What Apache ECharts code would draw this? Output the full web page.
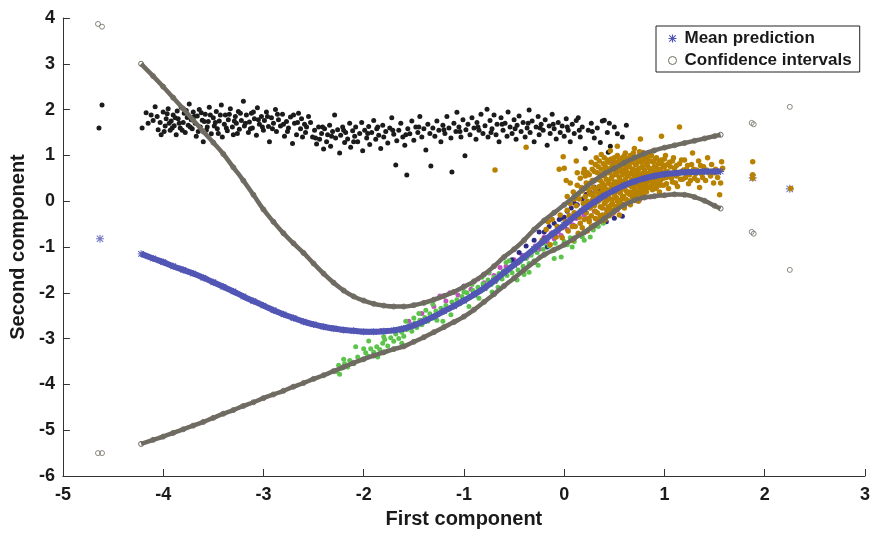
<!DOCTYPE html>
<html>
<head>
<meta charset="utf-8">
<script src="https://cdn.jsdelivr.net/npm/echarts@6/dist/echarts.min.js"></script>
<style>
  html, body { margin: 0; padding: 0; background: #fff; }
  #chart { width: 873px; height: 538px; }
</style>
</head>
<body>
<div id="chart"></div>
<script>
// Inputs at which the model prediction and its bounds are evaluated
const curveX = [-4.22,-4.1,-4.0,-3.9,-3.8,-3.7,-3.6,-3.5,-3.4,-3.3,-3.2,-3.1,-3.0,-2.9,-2.8,-2.7,-2.6,-2.5,-2.4,-2.3,-2.2,-2.1,-2.0,-1.9,-1.8,-1.7,-1.6,-1.5,-1.4,-1.3,-1.2,-1.1,-1.0,-0.9,-0.8,-0.7,-0.6,-0.5,-0.4,-0.3,-0.2,-0.1,0,0.1,0.2,0.3,0.4,0.5,0.6,0.7,0.8,0.9,1.0,1.1,1.2,1.3,1.4,1.5,1.56];
const ciUpper = [3.00,2.73,2.50,2.26,2.02,1.77,1.52,1.28,1.03,0.74,0.45,0.14,-0.18,-0.45,-0.70,-0.92,-1.13,-1.36,-1.58,-1.78,-1.95,-2.08,-2.17,-2.24,-2.28,-2.30,-2.30,-2.27,-2.22,-2.15,-2.07,-1.98,-1.87,-1.75,-1.60,-1.42,-1.22,-1.05,-0.85,-0.62,-0.42,-0.25,-0.08,0.10,0.28,0.45,0.60,0.72,0.84,0.95,1.04,1.11,1.17,1.22,1.27,1.32,1.37,1.42,1.45];
const meanPred = [-1.15,-1.25,-1.33,-1.42,-1.50,-1.58,-1.67,-1.77,-1.87,-1.97,-2.08,-2.18,-2.28,-2.38,-2.47,-2.55,-2.63,-2.69,-2.74,-2.78,-2.81,-2.83,-2.85,-2.85,-2.84,-2.82,-2.78,-2.71,-2.62,-2.52,-2.40,-2.29,-2.17,-2.04,-1.90,-1.74,-1.56,-1.39,-1.22,-1.04,-0.86,-0.69,-0.52,-0.34,-0.17,-0.02,0.12,0.24,0.35,0.43,0.50,0.55,0.59,0.61,0.63,0.64,0.65,0.65,0.65];
const ciLower = [-5.30,-5.21,-5.14,-5.06,-4.98,-4.90,-4.82,-4.73,-4.64,-4.56,-4.47,-4.39,-4.30,-4.22,-4.14,-4.05,-3.97,-3.88,-3.80,-3.71,-3.62,-3.53,-3.45,-3.37,-3.30,-3.23,-3.17,-3.07,-2.97,-2.86,-2.75,-2.64,-2.52,-2.37,-2.20,-2.03,-1.85,-1.68,-1.50,-1.33,-1.17,-1.06,-0.95,-0.81,-0.68,-0.53,-0.38,-0.22,-0.08,0.02,0.08,0.11,0.13,0.15,0.14,0.09,0.01,-0.10,-0.16];

// Isolated inputs far from the bulk of the data
const farX = [-4.65,-4.61,1.87,1.89,2.25];
const farUpper = [3.87,3.81,1.71,1.68,2.06];
const farLower = [-5.50,-5.50,-0.67,-0.71,-1.50];
const farMean = [[-4.63,-0.82],[1.88,0.51],[2.25,0.27]];

// Observed points, grouped by class
const blackPts = [[-4.64,1.60],[-4.61,2.10],[-4.21,1.60],
[-4.17,1.93],[-4.12,1.88],[-4.10,1.76],[-4.08,2.06],[-4.05,1.56],[-4.03,1.72],[-4.02,1.45],[-4.00,1.95],[-3.98,1.64],[-3.97,1.80],[-3.95,2.02],[-3.93,1.55],[-3.92,1.75],[-3.90,1.88],[-3.89,1.65],[-3.87,1.45],[-3.86,1.97],[-3.85,1.80],[-3.83,1.60],[-3.82,2.05],[-3.80,1.72],[-3.79,1.92],[-3.78,1.50],[-3.76,1.83],[-3.75,1.66],[-3.74,2.12],[-3.72,1.78],[-3.71,1.58],[-3.70,1.95],[-3.68,1.70],[-3.67,1.42],[-3.66,1.86],[-3.64,2.00],[-3.63,1.62],[-3.61,1.77],[-3.60,1.30],[-3.58,1.90],[-3.57,1.55],[-3.55,1.74],[-3.54,2.05],[-3.52,1.47],[-3.50,1.82],[-3.49,1.64],[-3.47,1.96],[-3.46,1.58],[-3.44,1.75],[-3.42,2.10],[-3.41,1.40],[-3.39,1.68],[-3.38,1.88],[-3.36,1.54],[-3.35,1.78],[-3.33,2.02],[-3.31,1.62],[-3.30,1.45],[-3.28,1.85],[-3.27,1.70],[-3.25,1.96],[-3.24,1.57],[-3.22,1.76],[-3.20,2.18],[-3.19,1.64],[-3.17,1.88],[-3.15,1.50],[-3.14,1.73],[-3.12,1.92],[-3.11,1.60],[-3.09,1.80],[-3.07,1.44],[-3.06,2.04],[-3.04,1.68],[-3.02,1.85],[-3.00,1.55],[-2.99,1.76],[-2.97,1.95],[-2.95,1.63],[-2.94,1.30],[-2.92,1.82],[-2.90,1.70],[-2.88,2.00],[-2.87,1.52],[-2.85,1.78],[-2.83,1.64],[-2.81,1.90],[-2.79,1.42],[-2.77,1.74],[-2.75,1.60],[-2.73,1.84],[-2.71,1.26],[-2.69,1.70],[-2.67,1.45],[-2.65,1.92],[-2.63,1.58],[-2.61,1.40],[-2.59,1.68],[-2.57,1.62],
[-2.53,1.72],[-2.51,1.40],[-2.49,1.55],[-2.47,1.25],[-2.45,1.62],[-2.44,1.35],[-2.42,1.48],[-2.40,1.14],[-2.39,1.58],[-2.37,1.30],[-2.36,1.45],[-2.34,1.66],[-2.33,1.20],[-2.31,1.52],[-2.29,1.88],[-2.28,1.38],[-2.26,1.56],[-2.24,1.05],[-2.23,1.44],[-2.21,1.62],[-2.19,1.28],[-2.18,1.50],[-2.16,1.36],[-2.14,1.70],[-2.13,1.18],[-2.11,1.54],[-2.09,1.42],[-2.08,1.62],[-2.06,1.30],[-2.04,1.48],[-2.02,1.72],[-2.01,1.10],[-1.99,1.55],[-1.97,1.38],[-1.95,1.63],[-1.94,1.24],[-1.92,1.50],[-1.90,1.76],[-1.88,1.35],[-1.87,1.58],[-1.85,1.44],[-1.83,1.15],[-1.81,1.66],[-1.80,1.40],[-1.78,1.52],[-1.76,1.27],[-1.74,1.60],[-1.72,1.82],[-1.70,1.46],[-1.68,0.79],[-1.67,1.32],[-1.65,1.55],[-1.63,1.70],[-1.61,1.40],[-1.59,1.22],[-1.57,0.57],[-1.56,1.58],[-1.54,1.47],[-1.52,1.75],[-1.50,1.33],[-1.48,1.62],[-1.46,1.50],[-1.44,1.85],[-1.42,1.40],[-1.40,1.58],[-1.38,1.12],[-1.36,1.68],[-1.34,1.48],[-1.33,0.77],[-1.31,1.60],
[-1.29,1.42],[-1.27,1.75],[-1.25,1.55],[-1.23,1.30],[-1.21,1.66],[-1.19,1.48],[-1.17,1.85],[-1.15,1.60],[-1.13,1.38],[-1.12,0.64],[-1.10,1.70],[-1.08,1.52],[-1.07,1.94],[-1.05,1.62],[-1.03,1.40],[-1.01,1.78],[-0.99,0.99],[-0.98,1.56],[-0.96,1.68],[-0.94,1.45],[-0.92,1.82],[-0.90,1.60],[-0.88,1.35],[-0.87,1.72],[-0.85,1.55],[-0.83,1.90],[-0.81,1.48],[-0.79,1.65],[-0.77,2.01],[-0.76,1.40],[-0.74,1.76],[-0.72,1.58],[-0.70,1.88],[-0.68,1.45],[-0.67,1.68],[-0.65,1.30],[-0.63,1.82],[-0.61,1.55],[-0.59,1.70],[-0.57,1.42],[-0.56,1.95],[-0.54,1.62],[-0.52,1.48],[-0.50,1.78],[-0.48,1.35],[-0.47,1.66],[-0.45,1.86],[-0.43,1.52],[-0.41,1.72],[-0.39,1.40],[-0.37,1.60],[-0.35,1.99],[-0.34,1.50],[-0.32,1.75],[-0.30,1.30],[-0.28,1.62],[-0.26,1.85],[-0.25,1.45],[-0.23,1.68],[-0.21,1.55],[-0.19,1.78],[-0.17,1.22],[-0.15,1.64],[-0.14,1.48],[-0.12,1.90],[-0.10,1.58],[-0.08,1.36],[-0.06,1.72],[-0.04,1.50],[-0.02,1.64],[0.00,1.42],[0.02,1.80],[0.04,1.55],[0.06,1.30],[0.08,1.68],[0.10,1.48],[0.12,1.76],[0.14,1.82],[0.16,1.40],[0.18,1.62],[0.21,1.15],[0.24,1.55],[0.27,1.70],[0.30,1.38],[0.33,1.60],[0.36,1.28],[0.38,1.75],[0.40,1.77],[0.43,1.50],[0.44,1.07],[0.46,1.20],[0.50,1.62],[0.53,1.47],[0.58,1.40],[0.62,1.66],
[-4.15,1.70],[-4.06,1.85],[-3.99,1.52],[-3.96,1.91],[-3.94,1.70],[-3.91,1.60],[-3.88,1.82],[-3.84,1.70],[-3.81,1.55],[-3.77,1.98],[-3.73,1.62],[-3.69,1.85],[-3.65,1.52],[-3.62,1.93],[-3.59,1.74],[-3.56,1.62],[-3.53,1.88],[-3.48,1.72],[-3.45,1.48],[-3.43,1.88],[-3.37,1.60],[-3.34,1.90],[-3.29,1.75],[-3.26,1.48],[-3.23,1.92],[-3.18,1.70],[-3.13,1.58],[-3.10,1.95],[-3.05,1.78],[-3.01,1.62],[-2.96,1.85],[-2.91,1.58],[-2.86,1.90],[-2.80,1.68],[-2.76,1.52],[-2.70,1.88],[-2.66,1.72],[-2.62,1.80],[-2.58,1.50],[-2.55,1.85],[-2.48,1.38],[-2.41,1.62],[-2.32,1.42],[-2.20,1.55],[-2.10,1.30],[-1.96,1.48],[-1.86,1.62],[-1.71,1.55],[-1.58,1.45],[-1.45,1.62],[-1.20,1.56],[-1.04,1.52],[-0.86,1.62],[-0.73,1.50],[-0.62,1.68],[-0.49,1.58],[-0.36,1.70],[-0.24,1.60],[-0.11,1.68],[0.03,1.62],[0.15,1.55],[0.28,1.52],[0.45,1.70]];

const goldPts = [[-0.69,0.68],[-0.38,1.18],[-0.22,-0.85],[-0.18,-0.62],[-0.14,-0.95],[-0.12,-0.40],[-0.10,-0.72],[-0.07,-0.55],[-0.05,0.70],[-0.04,-0.30],[-0.02,-0.80],[0.00,0.72],[-0.01,0.97],[0.01,-0.45],[0.03,-0.20],[0.04,-0.65],[0.06,-0.05],[0.07,-0.38],[0.08,-0.85],[0.09,0.20],[0.10,-0.25],[0.12,0.88],
[0.11,-0.55],[0.12,-0.10],[0.13,0.35],[0.14,-0.70],[0.15,-0.35],[0.15,0.05],[0.16,0.50],[0.17,-0.20],[0.18,-0.58],[0.18,0.22],[0.19,-0.05],[0.20,0.70],[0.20,-0.40],[0.21,0.10],[0.22,-0.25],[0.22,0.40],[0.23,-0.65],[0.23,0.00],[0.24,0.28],[0.25,-0.45],[0.25,0.58],[0.26,-0.15],[0.26,0.15],[0.27,0.85],[0.27,-0.32],[0.28,0.45],[0.28,0.02],[0.29,-0.55],[0.29,0.30],[0.30,-0.10],[0.30,0.65],[0.31,-0.38],[0.31,0.20],[0.32,0.95],[0.32,-0.02],
[0.33,0.48],[0.33,-0.25],[0.34,0.10],[0.34,0.75],[0.35,-0.45],[0.35,0.32],[0.36,-0.12],[0.36,0.58],[0.37,0.05],[0.37,1.02],[0.38,-0.30],[0.38,0.40],[0.39,0.18],[0.39,0.82],[0.40,-0.05],[0.40,0.55],[0.41,-0.40],[0.41,0.28],[0.42,0.68],[0.42,0.00],[0.43,0.90],[0.43,-0.20],[0.44,0.42],[0.44,0.12],[0.45,0.62],[0.45,-0.32],[0.46,0.25],[0.46,1.10],[0.47,-0.08],[0.47,0.50],[0.48,0.78],[0.48,0.05],[0.49,0.35],[0.49,-0.25],[0.50,0.95],[0.50,0.15],[0.51,0.60],[0.51,-0.12],[0.52,0.42],[0.52,0.72],[0.53,0.00],[0.53,1.20],[0.54,0.28],[0.54,0.85],[0.55,-0.30],[0.55,0.52],
[0.56,0.18],[0.56,0.70],[0.57,0.38],[0.57,-0.05],[0.58,0.95],[0.58,0.58],[0.59,0.10],[0.59,0.30],[0.60,0.80],[0.60,-0.15],[0.61,0.48],[0.61,1.05],[0.62,0.22],[0.62,0.65],[0.63,0.02],[0.63,0.88],[0.64,0.40],[0.64,0.55],[0.65,0.15],[0.65,0.75],[0.66,-0.08],[0.66,1.00],[0.67,0.32],[0.67,0.62],[0.68,0.48],[0.68,0.90],[0.69,0.08],[0.69,0.70],[0.70,0.25],[0.70,1.15],[0.71,0.55],[0.71,0.40],[0.72,0.82],[0.72,0.12],[0.73,0.62],[0.73,0.35],[0.74,0.95],[0.74,0.00],[0.75,0.50],[0.75,0.72],[0.76,0.22],[0.76,1.36],[0.77,0.60],[0.77,0.85],[0.78,0.30],[0.78,0.45],[0.79,1.05],[0.79,0.15],[0.80,0.68],
[0.81,0.38],[0.81,0.90],[0.82,0.52],[0.82,0.20],[0.83,0.78],[0.84,0.60],[0.84,1.00],[0.85,0.30],[0.86,0.70],[0.86,0.45],[0.87,0.88],[0.88,0.25],[0.88,0.58],[0.89,1.10],[0.90,0.40],[0.90,0.75],[0.91,0.62],[0.92,0.95],[0.92,0.30],[0.93,0.50],[0.94,0.82],[0.95,0.68],[0.95,0.20],[0.96,0.45],[0.97,1.42],[0.97,0.90],[0.98,0.58],[0.99,0.35],[1.00,0.75],[1.01,1.00],[1.02,0.52],[1.03,0.65],[1.04,0.28],[1.05,0.85],
[1.06,0.60],[1.08,0.42],[1.09,0.95],[1.10,0.72],[1.12,0.55],[1.13,0.32],[1.15,1.62],[1.15,0.82],[1.17,0.65],[1.18,0.48],[1.20,0.90],[1.22,0.70],[1.24,0.38],[1.25,0.58],[1.27,0.80],[1.28,1.05],[1.30,0.50],[1.32,0.68],[1.34,0.88],[1.35,0.30],[1.37,0.60],[1.39,0.75],[1.41,0.45],[1.43,0.95],[1.44,0.62],[1.47,0.80],[1.49,0.40],[1.51,0.70],[1.53,0.52],[1.55,0.14],[1.56,0.40],[1.57,0.86],[1.58,0.72],
[0.21,0.55],[0.22,-0.05],[0.23,0.62],[0.24,-0.38],[0.25,0.20],[0.26,0.40],[0.27,-0.55],[0.28,0.70],[0.29,0.10],[0.30,0.45],[0.31,-0.22],[0.31,0.80],[0.32,0.28],[0.33,-0.40],[0.33,0.62],[0.34,0.00],[0.35,0.88],[0.35,0.18],[0.36,-0.32],[0.36,0.45],[0.37,0.70],[0.38,-0.15],[0.38,0.25],[0.39,0.58],[0.39,-0.42],[0.40,0.95],[0.40,0.35],[0.41,0.08],[0.41,0.75],[0.42,-0.28],[0.42,0.48],[0.43,0.20],[0.43,0.62],[0.44,-0.12],[0.44,0.85],[0.45,0.38],[0.45,0.05],[0.46,0.72],[0.46,-0.18],[0.47,0.30],[0.47,0.92],[0.48,0.55],[0.48,-0.05],[0.49,0.68],[0.49,0.18],[0.50,0.42],[0.50,-0.20],[0.51,0.85],[0.51,0.30],[0.52,0.08],[0.52,0.58],[0.53,1.00],[0.53,0.38],[0.54,-0.10],[0.54,0.65],[0.55,0.20],[0.55,0.90],[0.56,0.45],[0.56,0.02],[0.57,0.78],[0.57,0.25],[0.58,0.10],[0.58,0.42],[0.59,0.88],[0.59,0.62],[0.60,0.30],[0.60,1.00],[0.61,0.05],[0.61,0.70],[0.62,0.40],[0.62,0.92],[0.63,0.18],[0.63,0.55],[0.64,0.78],[0.64,-0.02],[0.65,0.35],[0.65,0.95],[0.66,0.60],[0.66,0.20],[0.67,0.85],[0.67,0.45],[0.68,0.08],[0.68,0.70],[0.69,0.32],[0.69,1.05],[0.70,0.55],[0.70,0.15],[0.71,0.80],[0.71,0.95],[0.72,0.38],[0.72,0.60],[0.73,0.20],[0.73,0.85],[0.74,0.48],[0.74,0.70],[0.75,0.30],[0.75,1.08],[0.76,0.58],[0.76,0.88],[0.77,0.40],[0.77,0.15],[0.78,0.75],[0.78,0.98],[0.79,0.55],[0.79,0.35],[0.80,0.90],[0.80,0.22],[0.81,0.62],[0.82,0.80],[0.82,0.40],[0.83,0.95],[0.83,0.30],[0.84,0.50],[0.85,0.72],[0.85,0.88],[0.86,0.58],[0.87,0.35],[0.87,1.00],[0.88,0.70],[0.89,0.48],[0.89,0.85],[0.90,0.60],[0.91,0.28],[0.91,0.92],[0.92,0.72],[0.93,0.40],[0.93,0.62],[0.94,0.55],[0.95,0.88],[0.96,0.70],[0.96,0.35],[0.97,0.62],[0.98,0.80],[0.99,0.50],[1.00,0.92],[1.01,0.65],[1.02,0.38],[1.03,0.80],[1.04,0.58],[1.06,0.75],[1.07,0.50],[1.08,0.88],[1.10,0.62],[1.11,0.40],[1.12,0.78],[1.14,0.60],[1.16,0.48],[1.17,0.90],[1.19,0.68],[1.21,0.52],[1.23,0.78],[1.26,0.45],[1.29,0.70],[1.31,0.60],[1.33,0.45],[1.36,0.78],[1.38,0.52],[1.42,0.68],[1.46,0.55],[1.50,0.62],[0.14,0.15],[0.16,-0.48],[0.17,0.30],[0.19,0.62],[0.12,-0.30],[0.10,0.05],[0.08,-0.55],[0.05,-0.32],[0.03,0.10],[-0.02,-0.58],[-0.08,-0.78],[-0.16,-0.45],[0.06,0.40],[0.13,0.62],[0.02,0.45],
[1.88,0.86],[1.88,0.58],[1.88,0.50],[2.26,0.28]];

const greenPts = [[-2.27,-3.72],[-2.25,-3.58],[-2.24,-3.78],[-2.22,-3.65],[-2.19,-3.55],[-2.16,-3.62],[-2.14,-3.48],[-2.10,-3.55],[-2.06,-3.40],[-2.02,-3.46],[-1.98,-3.31],[-1.96,-3.38],[-1.93,-3.22],[-1.90,-3.30],[-1.87,-3.18],[-1.84,-3.24],[-1.81,-3.10],[-1.79,-3.02],[-1.76,-3.16],[-1.73,-2.98],[-1.70,-3.06],[-1.68,-2.90],[-1.65,-3.00],[-1.62,-2.86],[-1.60,-2.95],[-1.57,-2.80],[-1.55,-2.72],[-1.52,-2.84],[-1.49,-2.66],[-1.47,-2.76],[-1.44,-2.60],[-1.42,-2.70],[-1.39,-2.54],[-1.36,-2.62],[-1.34,-2.46],[-1.31,-2.55],[-1.28,-2.40],[-1.26,-2.48],[-1.23,-2.34],[-1.20,-2.42],[-1.18,-2.28],[-1.15,-2.36],[-1.12,-2.20],[-1.10,-2.30],[-1.07,-2.15],[-1.04,-2.24],[-1.02,-2.08],[-0.99,-2.18],[-0.97,-2.00],[-0.94,-2.10],[-0.91,-1.95],[-0.89,-2.05],[-0.86,-1.88],[-0.83,-1.96],[-0.81,-1.80],[-0.78,-1.90],[-0.76,-1.72],[-0.73,-1.82],[-0.70,-1.66],[-0.68,-1.75],[-0.65,-1.58],[-0.62,-1.70],[-0.60,-1.52],[-0.57,-1.62],[-0.54,-1.45],[-0.52,-1.56],[-0.49,-1.38],[-0.46,-1.50],[-0.44,-1.32],[-0.41,-1.42],[-0.38,-1.25],[-0.35,-1.36],[-0.33,-1.18],[-0.30,-1.30],[-0.27,-1.12],[-0.24,-1.22],[-0.21,-1.05],[-0.18,-1.15],[-0.15,-0.98],[-0.12,-1.08],[-0.09,-0.92],[-0.06,-1.02],[-0.03,-1.22],[0.00,-0.88],[0.03,-0.95],[0.06,-0.80],[0.10,-0.88],[0.14,-0.72],[0.18,-0.78],[0.20,-0.85],[0.24,-0.62],[0.29,-0.63],[0.34,-0.55],[0.39,-0.48],
[-1.95,-3.05],[-1.75,-2.82],[-1.50,-2.55],[-1.21,-2.62],[-0.95,-2.30],[-0.72,-1.98],[-0.47,-1.72],[-0.26,-1.40],[-0.58,-1.34],[-1.31,-2.25],[-2.08,-3.18],[-1.86,-3.40],[-1.62,-3.10],[-0.82,-1.66],[-0.40,-1.60],
[-2.20,-3.45],[-2.00,-3.22],[-1.80,-2.96],[-1.64,-2.78],[-1.45,-2.45],[-1.27,-2.60],[-1.13,-2.48],[-1.00,-1.98],[-0.85,-2.12],[-0.66,-1.88],[-0.55,-1.30],[-0.35,-1.55],[-0.20,-0.92],[-0.10,-1.25],[0.08,-1.00],[0.26,-0.78],[-0.92,-1.82],[-1.38,-2.38],[-1.58,-2.62],[-0.75,-1.55]];

const magentaPts = [[-1.95,-2.86],[-1.83,-2.83],[-1.68,-2.82],[-1.55,-2.62],[-1.42,-2.45],[-1.30,-2.30],[-1.24,-2.07],[-1.18,-2.18],[-1.14,-2.00],[-1.06,-2.05],[-1.00,-1.85],[-0.93,-1.92],[-0.86,-1.70],[-0.80,-1.78],[-0.75,-1.57],[-0.70,-1.62],[-0.64,-1.45],[-0.58,-1.42],[-0.55,-1.50],[-0.50,-1.28],[-0.46,-1.35],[-0.42,-1.18],[-0.37,-1.22],[-0.33,-1.13],[-0.29,-0.98],[-0.25,-1.05],[-0.20,-0.78],[-0.17,-0.88],[-0.13,-0.70],[-0.10,-0.82],[-0.06,-0.67],[-0.03,-0.75],[0.00,-0.55],[0.03,-0.62],[0.06,-0.45],[0.09,-0.52],[0.12,-0.38],[0.16,-0.48],[0.20,-0.30],[0.25,-0.40],[0.30,-0.22],[0.36,-0.35],[0.42,-0.18],[0.48,-0.28],[0.53,-0.19],[0.59,-0.12],[0.66,-0.05],[0.75,0.02],[0.86,0.09],[0.49,0.86],[0.78,1.07]];

const navyPts = [[-0.52,-1.28],[-0.45,-1.12],[-0.38,-0.98],[-0.30,-0.85],[-0.25,-0.67],[-0.20,-0.67],[-0.20,-0.82],[-0.15,-0.55],[-0.10,-0.48],[-0.05,-0.40],[-0.03,-0.37],[0.00,-0.35],[0.03,-0.22],[0.07,-0.15],[0.10,-0.04],[0.13,-0.08],[0.18,0.05],[0.22,0.15],[0.26,0.20],[0.30,0.31],[0.35,0.25],[0.50,-0.37],[0.58,-0.33],[0.42,-0.45],[-0.17,-1.00]];

// Axis ticks
const xTicks = [-5,-4,-3,-2,-1,0,1,2,3];
const yTicks = [-6,-5,-4,-3,-2,-1,0,1,2,3,4];

const GRAY = '#6f6b62';
const BLUE = '#5256b4';
const FONT = '"Liberation Sans", Arial, Helvetica, sans-serif';
// eight-armed asterisk marker
const ASTERISK = 'path://M0,4.3L10,4.3L10,5.7L0,5.7Z M4.3,0L5.7,0L5.7,10L4.3,10Z M0.5,1.5L1.5,0.5L9.5,8.5L8.5,9.5Z M8.5,0.5L9.5,1.5L1.5,9.5L0.5,8.5Z';

const pairs = (xs, ys) => xs.map((x, i) => [x, ys[i]]);

const hollow = { color: 'rgba(255,255,255,0)', borderColor: GRAY, borderWidth: 1 };
const dot = (name, data, color, size) => ({
  name, type: 'scatter', data, symbol: 'circle', symbolSize: size,
  itemStyle: { color, opacity: 1 }, silent: true
});

const chart = echarts.init(document.getElementById('chart'), null, { renderer: 'canvas' });
chart.setOption({
  animation: false,
  backgroundColor: '#ffffff',
  grid: { left: 58, right: 7, top: 18, bottom: 62 },
  legend: {
    data: [
      { name: 'Mean prediction', icon: ASTERISK, itemStyle: { color: BLUE } },
      { name: 'Confidence intervals', icon: 'circle', itemStyle: { color: '#ffffff', borderColor: GRAY, borderWidth: 1 } }
    ],
    orient: 'vertical',
    left: 656, top: 26,
    padding: [4, 8, 3, 12],
    itemGap: 5,
    itemWidth: 8, itemHeight: 8,
    borderColor: '#222', borderWidth: 1,
    backgroundColor: '#fff',
    selectedMode: false,
    textStyle: { fontFamily: FONT, fontWeight: 'bold', fontSize: 17, color: '#1a1a1a', padding: [0, 0, 0, 3] }
  },
  xAxis: {
    type: 'value', min: xTicks[0], max: xTicks[xTicks.length - 1], interval: 1,
    name: 'First component', nameLocation: 'middle', nameGap: 33,
    nameTextStyle: { fontFamily: FONT, fontWeight: 'bold', fontSize: 20, color: '#1a1a1a' },
    axisLine: { show: true, onZero: false, lineStyle: { color: '#333', width: 1 } },
    axisTick: { show: true, inside: true, length: 7, lineStyle: { color: '#333' } },
    axisLabel: { fontFamily: FONT, fontWeight: 'bold', fontSize: 18, color: '#1a1a1a', margin: 10 },
    splitLine: { show: false }
  },
  yAxis: {
    type: 'value', min: yTicks[0], max: yTicks[yTicks.length - 1], interval: 1,
    name: 'Second component', nameLocation: 'middle', nameGap: 31, nameRotate: 90,
    nameTextStyle: { fontFamily: FONT, fontWeight: 'bold', fontSize: 20, color: '#1a1a1a' },
    axisLine: { show: true, onZero: false, lineStyle: { color: '#333', width: 1 } },
    axisTick: { show: true, inside: true, length: 7, lineStyle: { color: '#333' } },
    axisLabel: { fontFamily: FONT, fontWeight: 'bold', fontSize: 18, color: '#1a1a1a', margin: 8 },
    splitLine: { show: false }
  },
  series: [
    {
      name: 'Mean prediction', type: 'line', data: pairs(curveX, meanPred), smooth: true,
      symbol: ASTERISK, symbolSize: 7, showSymbol: true, itemStyle: { color: BLUE },
      lineStyle: { color: BLUE, width: 6 }, silent: true
    },
    {
      name: 'Mean prediction', type: 'scatter', data: farMean,
      symbol: ASTERISK, symbolSize: 8, itemStyle: { color: BLUE }, silent: true
    },
    dot('observed-black', blackPts, '#1b1b1b', 5),
    dot('observed-magenta', magentaPts, '#c450c0', 5),
    dot('observed-navy', navyPts, '#2d2a86', 5),
    dot('observed-green', greenPts, '#5cc44a', 5),
    dot('observed-gold', goldPts, '#b88200', 5.5),
    {
      name: 'Confidence intervals', type: 'line', data: pairs(curveX, ciUpper), smooth: true,
      symbol: 'circle', symbolSize: 5, showSymbol: true, itemStyle: hollow,
      lineStyle: { color: GRAY, width: 4.5 }, silent: true
    },
    {
      name: 'Confidence intervals', type: 'line', data: pairs(curveX, ciLower), smooth: true,
      symbol: 'circle', symbolSize: 5, showSymbol: true, itemStyle: hollow,
      lineStyle: { color: GRAY, width: 4.5 }, silent: true
    },
    {
      name: 'Confidence intervals', type: 'scatter',
      data: pairs(farX, farUpper).concat(pairs(farX, farLower)),
      symbol: 'circle', symbolSize: 5, itemStyle: hollow, silent: true
    }
  ]
});
</script>
</body>
</html>
